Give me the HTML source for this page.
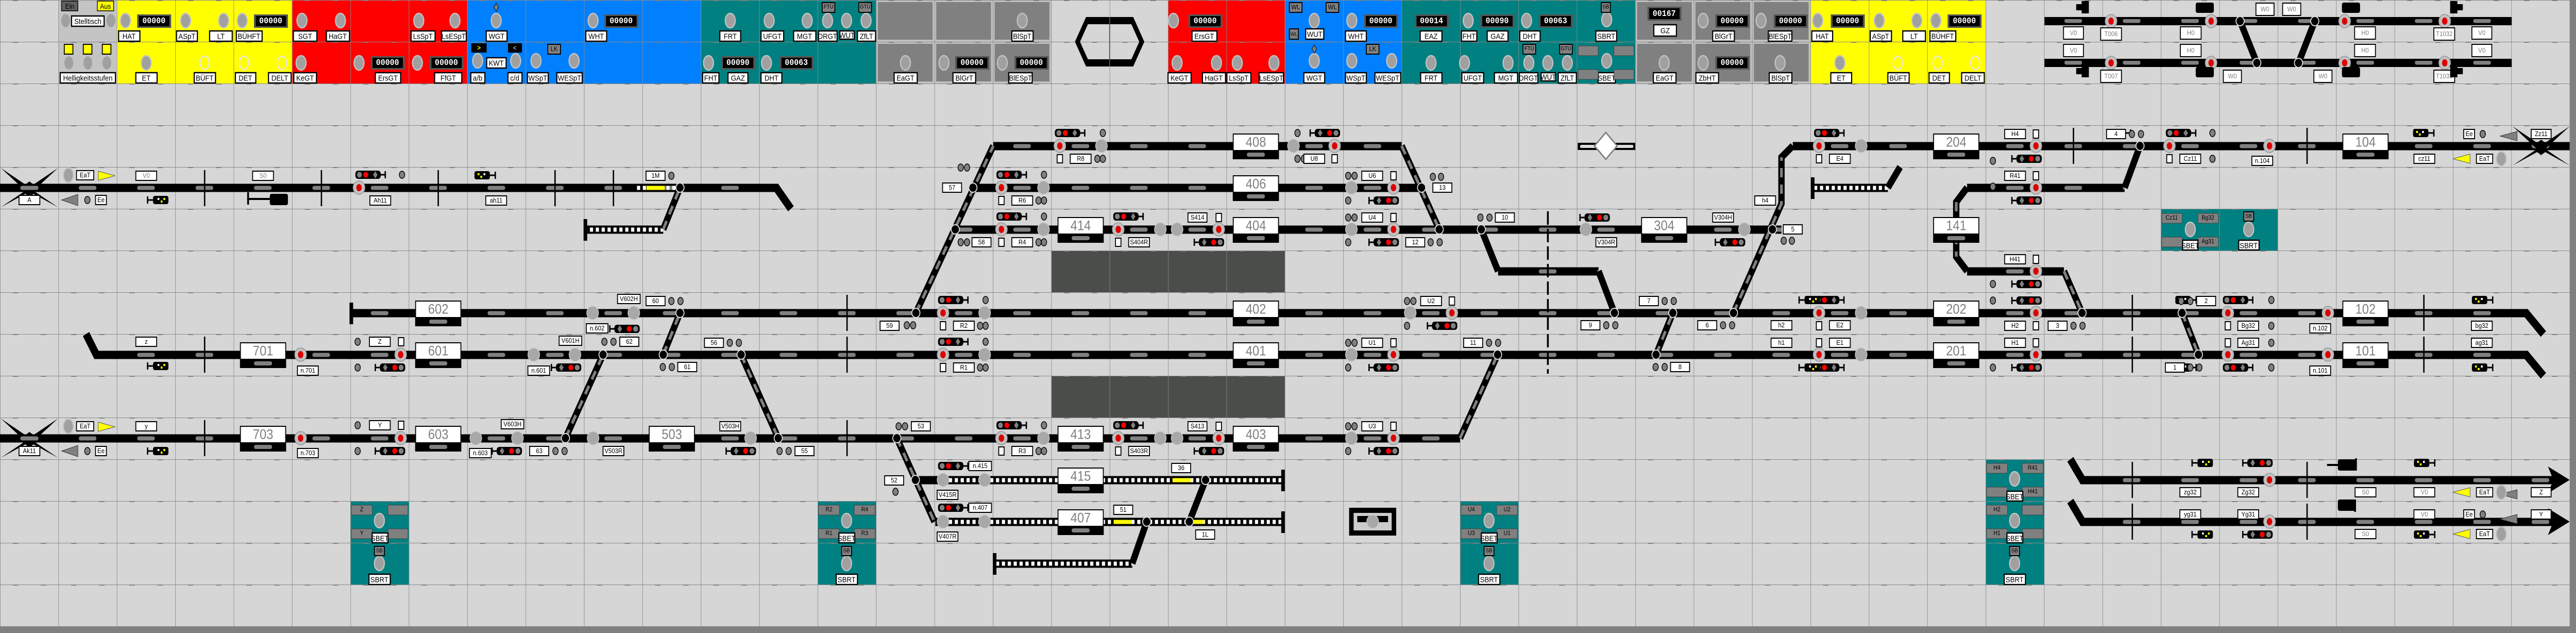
<!DOCTYPE html>
<html><head><meta charset="utf-8"><style>
html,body{margin:0;padding:0;background:#d6d6d6;width:100%;height:100%;overflow:hidden}
svg{display:block;width:100vw;height:100vh;position:absolute;left:0;top:0}
text{font-family:"Liberation Sans",sans-serif;text-anchor:middle;dominant-baseline:central}
.L rect{fill:#fff;stroke:#000;stroke-width:2}
.L text{font-size:13px;fill:#000}
.G text{fill:#808080}
.P rect{fill:#fff;stroke:#000;stroke-width:2.5}
.P text{font-size:15px;fill:#000}
.C text{font-family:"Liberation Mono",monospace;font-size:17px;fill:#fff;font-weight:bold}
.B text{font-size:27px;fill:#808080}
.tr{fill:none;stroke:#000;stroke-width:16}
.dg{fill:none;stroke:#000;stroke-width:14}
.dc{fill:none;stroke:#808080;stroke-width:6;stroke-dasharray:18 14}
.tk{stroke:#000;stroke-width:3}
</style></head><body>
<svg viewBox="0 0 5690 1228" preserveAspectRatio="none" xmlns="http://www.w3.org/2000/svg">
<defs>
<pattern id="gr" width="129" height="81" patternUnits="userSpaceOnUse">
<path d="M0.5 0V81M0 0.5H129" stroke="#8a8a8a" stroke-width="1" fill="none"/>
<rect x="28" y="-1" width="12" height="3" fill="#808080"/><rect x="90" y="-1" width="12" height="3" fill="#808080"/>
</pattern>
<pattern id="cap" width="129" height="81" patternUnits="userSpaceOnUse">
<rect x="45" y="36.5" width="39" height="8" rx="4" fill="#808080"/>
</pattern>
<pattern id="lad" width="13" height="81" patternUnits="userSpaceOnUse">
<rect x="3" y="36.5" width="7" height="8" fill="#fff"/>
</pattern>
<g id="k"><ellipse rx="11" ry="14" fill="#a0a0a0" stroke="#c4c4c4" stroke-width="2.5"/></g>
<g id="rg"><ellipse rx="10" ry="13" fill="none" stroke="#e8e8e8" stroke-width="2.5"/></g>
<g id="rk"><circle r="13" fill="#c0c0c0" stroke="#989898" stroke-width="1.5"/><ellipse rx="6" ry="7" fill="#d00"/></g>
<g id="gk"><circle r="13" fill="#a8a8a8" stroke="#c8c8c8" stroke-width="1.5"/></g>
<g id="dt"><ellipse rx="6" ry="7" fill="#808080" stroke="#000" stroke-width="1.5"/></g>
<g id="sq"><rect x="-6" y="-8" width="12" height="16" fill="#fff" stroke="#000" stroke-width="2"/></g>
<g id="sg"><rect x="0" y="-8" width="56" height="16" rx="6" fill="#000"/><circle cx="9" cy="0" r="5.5" fill="#808080"/><circle cx="23" cy="0" r="5.5" fill="#f00"/><path d="M44 -7L49 0L44 7L39 0Z" fill="#808080"/><path d="M56 0H66M66 -7V7" stroke="#000" stroke-width="3"/></g>
<g id="ys"><rect x="0" y="-8" width="34" height="16" rx="4" fill="#000"/><rect x="7" y="-4" width="4" height="4" fill="#ff0"/><rect x="13" y="1" width="4" height="4" fill="#ff0"/><rect x="20" y="-4" width="4" height="4" fill="#fff"/><path d="M34 0H46M46 -7V7" stroke="#000" stroke-width="3"/></g>
<g id="sw"><circle r="9" fill="#000" stroke="#ddd" stroke-width="2"/></g>
</defs>

<rect width="5690" height="1228" fill="#d6d6d6"/>

<!-- TOP PANELS -->
<rect x="129" y="0" width="129" height="162" fill="#c4c4c4"/>
<rect x="258" y="0" width="387" height="162" fill="#ffff00"/>
<rect x="645" y="0" width="387" height="162" fill="#ff0000"/>
<rect x="1032" y="0" width="516" height="162" fill="#0080ff"/>
<rect x="1548" y="0" width="387" height="162" fill="#008080"/>
<g fill="#808080" stroke="#c0c0c0" stroke-width="4">
<rect x="1937" y="2" width="125" height="77"/><rect x="2066" y="2" width="125" height="77"/><rect x="2195" y="2" width="125" height="77"/>
<rect x="1937" y="83" width="125" height="77"/><rect x="2066" y="83" width="125" height="77"/><rect x="2195" y="83" width="125" height="77"/>
<rect x="3614" y="2" width="125" height="77"/><rect x="3743" y="2" width="125" height="77"/><rect x="3872" y="2" width="125" height="77"/>
<rect x="3614" y="83" width="125" height="77"/><rect x="3743" y="83" width="125" height="77"/><rect x="3872" y="83" width="125" height="77"/>
</g>
<rect x="2580" y="0" width="258" height="162" fill="#ff0000"/>
<rect x="2838" y="0" width="258" height="162" fill="#0080ff"/>
<rect x="3096" y="0" width="516" height="162" fill="#008080"/>
<rect x="3999" y="0" width="387" height="162" fill="#ffff00"/>

<!-- dark blocks -->
<rect x="2322" y="486" width="516" height="81" fill="#4b4d4a"/>
<rect x="2322" y="729" width="516" height="81" fill="#4b4d4a"/>

<!-- teal SB boxes -->
<rect x="774" y="972" width="129" height="162" fill="#008080"/>
<rect x="1806" y="972" width="129" height="162" fill="#008080"/>
<rect x="3225" y="972" width="129" height="162" fill="#008080"/>
<rect x="4386" y="891" width="129" height="243" fill="#008080"/>
<rect x="4773" y="405" width="258" height="81" fill="#008080"/>

<!-- grid overlay -->
<rect width="5676" height="1215" fill="url(#gr)"/>
<rect x="0" y="1215" width="5690" height="13" fill="#808080"/>
<rect x="5676" y="0" width="14" height="1228" fill="#808080"/>

<!-- top panel content -->
<g>
<rect x="136" y="2" width="36" height="19" fill="#606060" stroke="#000" stroke-width="1.5"/><text x="154" y="12" font-size="14">Ein</text>
<rect x="215" y="2" width="36" height="19" fill="#ff0" stroke="#000" stroke-width="1.5"/><text x="233" y="12" font-size="14">Aus</text>
<rect x="142" y="86" width="19" height="19" fill="#ff0" stroke="#000" stroke-width="2"/><rect x="184" y="86" width="19" height="19" fill="#ff0" stroke="#000" stroke-width="2"/><rect x="226" y="86" width="19" height="19" fill="#ff0" stroke="#000" stroke-width="2"/>
</g>
<g>
<use href="#k" x="145" y="40"/><use href="#k" x="245" y="40"/><use href="#k" x="152" y="122"/><use href="#k" x="194" y="122"/><use href="#k" x="236" y="122"/>
<use href="#k" x="277" y="40"/><use href="#k" x="323" y="122"/>
<use href="#k" x="410" y="40"/><use href="#k" x="494" y="40"/><use href="#rg" x="452" y="122"/>
<use href="#k" x="535" y="40"/><use href="#rg" x="539" y="122"/><use href="#rg" x="623" y="122"/>
<use href="#k" x="667" y="40"/><use href="#k" x="752" y="40"/><use href="#k" x="665" y="122"/>
<use href="#k" x="793" y="122"/>
<use href="#k" x="925" y="40"/><use href="#k" x="1005" y="40"/><use href="#k" x="922" y="122"/>
<use href="#k" x="1096" y="40"/><use href="#k" x="1055" y="118"/><use href="#k" x="1139" y="118"/>
<use href="#k" x="1184" y="118"/><use href="#k" x="1268" y="118"/>
<use href="#k" x="1310" y="40"/>
<use href="#k" x="1613" y="40"/><use href="#k" x="1565" y="122"/>
<use href="#k" x="1699" y="40"/><use href="#k" x="1783" y="40"/><use href="#k" x="1693" y="122"/>
<use href="#k" x="1828" y="40"/><use href="#k" x="1870" y="40"/><use href="#k" x="1913" y="40"/>
<use href="#k" x="2000" y="122"/><use href="#k" x="2085" y="122"/><use href="#k" x="2258" y="40"/><use href="#k" x="2214" y="122"/>
<use href="#k" x="2592" y="40"/><use href="#k" x="2600" y="122"/><use href="#k" x="2687" y="122"/><use href="#k" x="2733" y="122"/><use href="#k" x="2814" y="122"/>
<use href="#k" x="2903" y="40"/><use href="#k" x="2903" y="118"/><use href="#k" x="2986" y="40"/><use href="#k" x="2986" y="118"/><use href="#k" x="3074" y="118"/>
<use href="#k" x="3161" y="122"/><use href="#k" x="3243" y="40"/><use href="#k" x="3235" y="122"/><use href="#k" x="3331" y="122"/>
<use href="#k" x="3372" y="40"/><use href="#k" x="3377" y="122"/><use href="#k" x="3419" y="122"/><use href="#k" x="3462" y="122"/>
<use href="#k" x="3549" y="38"/><use href="#k" x="3549" y="118"/>
<use href="#k" x="3676" y="122"/><use href="#k" x="3762" y="40"/><use href="#k" x="3762" y="122"/><use href="#k" x="3890" y="40"/><use href="#k" x="3932" y="122"/>
<use href="#k" x="4015" y="40"/><use href="#k" x="4064" y="122"/><use href="#k" x="4151" y="40"/><use href="#k" x="4234" y="40"/><use href="#rg" x="4192" y="122"/>
<use href="#k" x="4276" y="40"/><use href="#rg" x="4280" y="122"/><use href="#rg" x="4363" y="122"/>
</g>
<!-- counters -->
<g class="C">
<rect x="303" y="28" width="75" height="26" fill="#555"/><rect x="307" y="31" width="67" height="20" fill="#000"/><text x="340" y="41">00000</text>
<rect x="561" y="28" width="75" height="26" fill="#555"/><rect x="565" y="31" width="67" height="20" fill="#000"/><text x="598" y="41">00000</text>
<rect x="819" y="109" width="75" height="26" fill="#555"/><rect x="823" y="112" width="67" height="20" fill="#000"/><text x="856" y="122">00000</text>
<rect x="949" y="109" width="75" height="26" fill="#555"/><rect x="953" y="112" width="67" height="20" fill="#000"/><text x="986" y="122">00000</text>
<rect x="1335" y="28" width="75" height="26" fill="#555"/><rect x="1339" y="31" width="67" height="20" fill="#000"/><text x="1372" y="41">00000</text>
<rect x="1593" y="109" width="75" height="26" fill="#555"/><rect x="1597" y="112" width="67" height="20" fill="#000"/><text x="1630" y="122">00090</text>
<rect x="1722" y="109" width="75" height="26" fill="#555"/><rect x="1726" y="112" width="67" height="20" fill="#000"/><text x="1759" y="122">00063</text>
<rect x="2110" y="109" width="75" height="26" fill="#555"/><rect x="2114" y="112" width="67" height="20" fill="#000"/><text x="2147" y="122">00000</text>
<rect x="2241" y="109" width="75" height="26" fill="#555"/><rect x="2245" y="112" width="67" height="20" fill="#000"/><text x="2278" y="122">00000</text>
<rect x="2625" y="28" width="75" height="26" fill="#555"/><rect x="2629" y="31" width="67" height="20" fill="#000"/><text x="2662" y="41">00000</text>
<rect x="3013" y="28" width="75" height="26" fill="#555"/><rect x="3017" y="31" width="67" height="20" fill="#000"/><text x="3050" y="41">00000</text>
<rect x="3125" y="28" width="75" height="26" fill="#555"/><rect x="3129" y="31" width="67" height="20" fill="#000"/><text x="3162" y="41">00014</text>
<rect x="3270" y="28" width="75" height="26" fill="#555"/><rect x="3274" y="31" width="67" height="20" fill="#000"/><text x="3307" y="41">00090</text>
<rect x="3399" y="28" width="75" height="26" fill="#555"/><rect x="3403" y="31" width="67" height="20" fill="#000"/><text x="3436" y="41">00063</text>
<rect x="3639" y="13" width="75" height="27" fill="#555"/><rect x="3643" y="16" width="67" height="21" fill="#000"/><text x="3676" y="27">00167</text>
<rect x="3789" y="28" width="75" height="26" fill="#555"/><rect x="3793" y="31" width="67" height="20" fill="#000"/><text x="3826" y="41">00000</text>
<rect x="3789" y="109" width="75" height="26" fill="#555"/><rect x="3793" y="112" width="67" height="20" fill="#000"/><text x="3826" y="122">00000</text>
<rect x="3918" y="28" width="75" height="26" fill="#555"/><rect x="3922" y="31" width="67" height="20" fill="#000"/><text x="3955" y="41">00000</text>
<rect x="4044" y="28" width="75" height="26" fill="#555"/><rect x="4048" y="31" width="67" height="20" fill="#000"/><text x="4081" y="41">00000</text>
<rect x="4302" y="28" width="75" height="26" fill="#555"/><rect x="4306" y="31" width="67" height="20" fill="#000"/><text x="4339" y="41">00000</text>
</g>
<!-- top labels -->
<g class="P">
<rect x="158" y="31" width="72" height="20"/><text x="194" y="41">Stelltisch</text>
<rect x="133" y="141" width="122" height="20"/><text x="194" y="151" font-size="13">Helligkeitsstufen</text>
<rect x="262" y="60" width="47" height="20"/><text x="285" y="70">HAT</text>
<rect x="300" y="141" width="47" height="20"/><text x="323" y="151">ET</text>
<rect x="390" y="60" width="46" height="20"/><text x="413" y="70">ASpT</text>
<rect x="463" y="60" width="50" height="20"/><text x="488" y="70">LT</text>
<rect x="429" y="141" width="47" height="20"/><text x="452" y="151">BÜFT</text>
<rect x="522" y="60" width="57" height="20"/><text x="550" y="70">BÜHFT</text>
<rect x="520" y="141" width="45" height="20"/><text x="542" y="151">DET</text>
<rect x="593" y="141" width="50" height="20"/><text x="618" y="151">DELT</text>
<rect x="648" y="60" width="52" height="20"/><text x="674" y="70">SGT</text>
<rect x="721" y="60" width="51" height="20"/><text x="746" y="70">HaGT</text>
<rect x="649" y="141" width="50" height="20"/><text x="674" y="151">KeGT</text>
<rect x="829" y="141" width="56" height="20"/><text x="857" y="151">ErsGT</text>
<rect x="908" y="60" width="53" height="20"/><text x="934" y="70">LsSpT</text>
<rect x="975" y="60" width="55" height="20"/><text x="1002" y="70">LsESpT</text>
<rect x="960" y="141" width="60" height="20"/><text x="990" y="151">FfGT</text>
<rect x="1074" y="60" width="46" height="20"/><text x="1097" y="70">WGT</text>
<rect x="1075" y="112" width="43" height="20"/><text x="1096" y="122">KWT</text>
<rect x="1040" y="141" width="31" height="20"/><text x="1055" y="151">a/b</text>
<rect x="1122" y="141" width="31" height="20"/><text x="1137" y="151">c/d</text>
<rect x="1165" y="141" width="46" height="20"/><text x="1188" y="151">WSpT</text>
<rect x="1230" y="141" width="56" height="20"/><text x="1258" y="151">WESpT</text>
<rect x="1294" y="60" width="46" height="20"/><text x="1317" y="70">WHT</text>
<rect x="1590" y="60" width="46" height="20"/><text x="1613" y="70">FRT</text>
<rect x="1552" y="141" width="36" height="20"/><text x="1570" y="151">FHT</text>
<rect x="1608" y="141" width="44" height="20"/><text x="1630" y="151">GAZ</text>
<rect x="1681" y="60" width="50" height="20"/><text x="1706" y="70">UFGT</text>
<rect x="1753" y="60" width="49" height="20"/><text x="1777" y="70">MGT</text>
<rect x="1681" y="141" width="46" height="20"/><text x="1704" y="151">DHT</text>
<rect x="1808" y="60" width="41" height="20"/><text x="1828" y="70" font-size="12">DRGT</text>
<rect x="1855" y="60" width="32" height="16"/><text x="1871" y="68" font-size="11">WUT</text>
<rect x="1894" y="60" width="40" height="20"/><text x="1914" y="70">ZfLT</text>
<rect x="1975" y="141" width="51" height="20"/><text x="2000" y="151">EaGT</text>
<rect x="2105" y="141" width="50" height="20"/><text x="2130" y="151">BlGrT</text>
<rect x="2235" y="60" width="47" height="20"/><text x="2258" y="70">BlSpT</text>
<rect x="2228" y="141" width="52" height="20"/><text x="2254" y="151">BlESpT</text>
<rect x="2633" y="60" width="55" height="20"/><text x="2660" y="70">ErsGT</text>
<rect x="2580" y="141" width="51" height="20"/><text x="2605" y="151">KeGT</text>
<rect x="2656" y="141" width="51" height="20"/><text x="2681" y="151">HaGT</text>
<rect x="2710" y="141" width="53" height="20"/><text x="2736" y="151">LsSpT</text>
<rect x="2781" y="141" width="54" height="20"/><text x="2808" y="151">LsESpT</text>
<rect x="2884" y="56" width="40" height="20"/><text x="2904" y="66">WUT</text>
<rect x="2880" y="141" width="46" height="20"/><text x="2903" y="151">WGT</text>
<rect x="2972" y="60" width="46" height="20"/><text x="2995" y="70">WHT</text>
<rect x="2972" y="141" width="46" height="20"/><text x="2995" y="151">WSpT</text>
<rect x="3037" y="141" width="57" height="20"/><text x="3065" y="151">WESpT</text>
<rect x="3137" y="60" width="48" height="20"/><text x="3161" y="70">EAZ</text>
<rect x="3138" y="141" width="47" height="20"/><text x="3161" y="151">FRT</text>
<rect x="3228" y="60" width="34" height="20"/><text x="3245" y="70">FHT</text>
<rect x="3285" y="60" width="46" height="20"/><text x="3308" y="70">GAZ</text>
<rect x="3229" y="141" width="48" height="20"/><text x="3253" y="151">UFGT</text>
<rect x="3301" y="141" width="51" height="20"/><text x="3326" y="151">MGT</text>
<rect x="3357" y="60" width="45" height="20"/><text x="3379" y="70">DHT</text>
<rect x="3356" y="141" width="41" height="20"/><text x="3376" y="151" font-size="12">DRGT</text>
<rect x="3404" y="141" width="32" height="16"/><text x="3420" y="149" font-size="11">WUT</text>
<rect x="3442" y="141" width="40" height="20"/><text x="3462" y="151">ZfLT</text>
<rect x="3525" y="60" width="46" height="20"/><text x="3548" y="70">SBRT</text>
<rect x="3530" y="141" width="38" height="20"/><text x="3549" y="151" font-size="13">SBET</text>
<rect x="3653" y="48" width="50" height="22"/><text x="3678" y="59">GZ</text>
<rect x="3652" y="141" width="50" height="20"/><text x="3677" y="151">EaGT</text>
<rect x="3783" y="60" width="48" height="20"/><text x="3807" y="70">BlGrT</text>
<rect x="3746" y="141" width="50" height="20"/><text x="3771" y="151">ZbHT</text>
<rect x="3906" y="60" width="52" height="20"/><text x="3932" y="70">BlESpT</text>
<rect x="3908" y="141" width="50" height="20"/><text x="3933" y="151">BlSpT</text>
<rect x="4002" y="60" width="46" height="20"/><text x="4025" y="70">HAT</text>
<rect x="4044" y="141" width="46" height="20"/><text x="4067" y="151">ET</text>
<rect x="4131" y="60" width="47" height="20"/><text x="4154" y="70">ASpT</text>
<rect x="4203" y="60" width="50" height="20"/><text x="4228" y="70">LT</text>
<rect x="4170" y="141" width="47" height="20"/><text x="4193" y="151">BÜFT</text>
<rect x="4263" y="60" width="57" height="20"/><text x="4291" y="70">BÜHFT</text>
<rect x="4261" y="141" width="45" height="20"/><text x="4283" y="151">DET</text>
<rect x="4333" y="141" width="50" height="20"/><text x="4358" y="151">DELT</text>
</g>
<!-- small gray boxes in panels -->
<g font-size="13">
<rect x="1041" y="84" width="34" height="18" fill="#000"/><text x="1058" y="93" fill="#ff0" font-weight="bold">&gt;</text>
<rect x="1122" y="84" width="31" height="18" fill="#000"/><text x="1137" y="93" fill="#aaa" font-weight="bold">&lt;</text>
<path d="M1096 6L1101 14L1096 22L1091 14Z" fill="#808080" stroke="#000"/>
<rect x="1210" y="86" width="28" height="19" fill="#808080" stroke="#000" stroke-width="2"/><text x="1224" y="95">LK</text>
<rect x="1816" y="5" width="28" height="19" fill="#808080" stroke="#000" stroke-width="2"/><text x="1830" y="14" font-size="11">FTÜ</text>
<rect x="1897" y="5" width="28" height="19" fill="#808080" stroke="#000" stroke-width="2"/><text x="1911" y="14" font-size="11">GTÜ</text>
<rect x="2848" y="5" width="28" height="19" fill="#808080" stroke="#000" stroke-width="2"/><text x="2862" y="14">WL</text>
<rect x="2929" y="5" width="28" height="19" fill="#808080" stroke="#000" stroke-width="2"/><text x="2943" y="14">WL</text>
<rect x="2848" y="56" width="20" height="20" fill="#808080" stroke="#000" stroke-width="2"/><text x="2858" y="66" font-size="10">WL</text>
<path d="M2903 87L2908 95L2903 103L2898 95Z" fill="#808080" stroke="#000"/>
<rect x="3018" y="86" width="28" height="19" fill="#808080" stroke="#000" stroke-width="2"/><text x="3032" y="95">LK</text>
<rect x="3364" y="86" width="28" height="19" fill="#808080" stroke="#000" stroke-width="2"/><text x="3378" y="95" font-size="11">FTÜ</text>
<rect x="3445" y="86" width="28" height="19" fill="#808080" stroke="#000" stroke-width="2"/><text x="3459" y="95" font-size="11">GTÜ</text>
<rect x="3537" y="5" width="20" height="19" fill="#808080" stroke="#000" stroke-width="2"/><text x="3547" y="14" font-size="11">SB</text>
<rect x="3486" y="89" width="44" height="19" fill="#808080" stroke="#444"/><rect x="3565" y="89" width="44" height="19" fill="#808080" stroke="#444"/>
<rect x="3486" y="135" width="44" height="19" fill="#808080" stroke="#444"/><rect x="3565" y="135" width="44" height="19" fill="#808080" stroke="#444"/>
</g>
<!-- hexagon -->
<polygon points="2402,38 2500,38 2522,81 2500,124 2402,124 2380,81" fill="none" stroke="#000" stroke-width="10"/>
<rect x="2400" y="33" width="102" height="14" fill="#000"/><rect x="2400" y="115" width="102" height="14" fill="#000"/>
<path d="M2404 52L2392 78M2498 52L2510 78M2404 110L2392 84M2498 110L2510 84" stroke="#d6d6d6" stroke-width="4"/>
<line x1="2451" y1="33" x2="2451" y2="129" stroke="#555" stroke-width="2"/>

<!-- TOP RIGHT DIAGRAM -->
<path class="tr" d="M4516 41H5548M4516 122H5548"/>
<rect x="4516" y="37" width="1032" height="8" fill="url(#cap)"/><rect x="4516" y="118" width="1032" height="8" fill="url(#cap)"/>
<path class="dg" d="M4948 41L4985 122M5113 41L5077 122"/>
<use href="#rk" x="4663" y="41"/><use href="#rk" x="4884" y="41"/><use href="#rk" x="5179" y="41"/><use href="#rk" x="5400" y="41"/>
<use href="#rk" x="4663" y="122"/><use href="#rk" x="4884" y="122"/><use href="#rk" x="5179" y="122"/><use href="#rk" x="5400" y="122"/>
<use href="#sw" x="4948" y="41"/><use href="#sw" x="5113" y="41"/><use href="#sw" x="4985" y="122"/><use href="#sw" x="5077" y="122"/>
<g class="L G">
<rect x="4558" y="52" width="44" height="24"/><text x="4580" y="64">V0</text>
<rect x="4640" y="54" width="46" height="24"/><text x="4663" y="66" font-size="11">T006</text>
<rect x="4816" y="52" width="46" height="24"/><text x="4839" y="64">H0</text>
<rect x="5201" y="52" width="46" height="24"/><text x="5224" y="64">H0</text>
<rect x="5376" y="54" width="46" height="24"/><text x="5399" y="66" font-size="11">T1032</text>
<rect x="5460" y="52" width="44" height="24"/><text x="5482" y="64">V0</text>
<rect x="4983" y="6" width="40" height="24"/><text x="5003" y="18">W0</text>
<rect x="5042" y="6" width="40" height="24"/><text x="5062" y="18">W0</text>
<rect x="4558" y="86" width="44" height="24"/><text x="4580" y="98">V0</text>
<rect x="4816" y="86" width="46" height="24"/><text x="4839" y="98">H0</text>
<rect x="5201" y="86" width="46" height="24"/><text x="5224" y="98">H0</text>
<rect x="5460" y="86" width="44" height="24"/><text x="5482" y="98">V0</text>
<rect x="4640" y="136" width="46" height="24"/><text x="4663" y="148" font-size="11">T007</text>
<rect x="4911" y="136" width="40" height="24"/><text x="4931" y="148">W0</text>
<rect x="5111" y="136" width="40" height="24"/><text x="5131" y="148">W0</text>
<rect x="5376" y="136" width="46" height="24"/><text x="5399" y="148" font-size="11">T1033</text>
</g>
<g fill="#000">
<path d="M4586 8h12v-6h16v24h-16v-6h-12z"/><path d="M4586 132h12v-6h16v24h-16v-6h-12z"/>
<path d="M5440 8h-12v-6h-16v24h16v-6h12z"/><path d="M5440 132h-12v-6h-16v24h16v-6h12z"/>
<rect x="4850" y="5" width="40" height="20" rx="4"/><rect x="4850" y="130" width="40" height="20" rx="4"/>
<rect x="5173" y="5" width="40" height="20" rx="4"/><rect x="5173" y="130" width="40" height="20" rx="4"/>
</g>

<!-- MAIN TRACKS -->
<g class="tr">
<path d="M0 364.5H1715L1747 405"/>
<path d="M2149 364.5H3140"/>
<path d="M2110 445.5H3935"/>
<path d="M2194 283.5H3096"/>
<path d="M3960 283.5H5676"/>
<path d="M777 607.5H5580L5618 648"/>
<path d="M190 648L213 688.5H5580L5618 729"/>
<path d="M0 850.5H3225"/>
<path d="M4345 364.5H4693"/>
<path d="M4345 526.5H4559"/>
<path d="M3309 526.5H3531"/>
<path d="M4573 891L4600 931.5H5640"/>
<path d="M4573 972L4600 1012.5H5640"/>
<path d="M1292 445.5H1465"/>
<path d="M2020 931.5H2834"/>
<path d="M2066 1012.5H2834"/>
<path d="M2197 1093.5H2501"/>
<path d="M4003 364.5H4170"/>
</g>
<g>
<rect x="0" y="360.5" width="1715" height="8" fill="url(#cap)"/>
<rect x="2149" y="360.5" width="991" height="8" fill="url(#cap)"/>
<rect x="2110" y="441.5" width="1825" height="8" fill="url(#cap)"/>
<rect x="2194" y="279.5" width="902" height="8" fill="url(#cap)"/>
<rect x="3960" y="279.5" width="1716" height="8" fill="url(#cap)"/>
<rect x="777" y="603.5" width="4803" height="8" fill="url(#cap)"/>
<rect x="213" y="684.5" width="5367" height="8" fill="url(#cap)"/>
<rect x="0" y="846.5" width="3225" height="8" fill="url(#cap)"/>
<rect x="4345" y="360.5" width="348" height="8" fill="url(#cap)"/>
<rect x="4345" y="522.5" width="214" height="8" fill="url(#cap)"/>
<rect x="3309" y="522.5" width="222" height="8" fill="url(#cap)"/>
<rect x="4600" y="927.5" width="1040" height="8" fill="url(#cap)"/>
<rect x="4600" y="1008.5" width="1040" height="8" fill="url(#cap)"/>
<rect x="1292" y="441.5" width="173" height="8" fill="url(#lad)"/>
<rect x="2090" y="927.5" width="744" height="8" fill="url(#lad)"/>
<rect x="2090" y="1008.5" width="744" height="8" fill="url(#lad)"/>
<rect x="2197" y="1089.5" width="304" height="8" fill="url(#lad)"/>
<rect x="4003" y="360.5" width="167" height="8" fill="url(#lad)"/>
<rect x="1405" y="360.5" width="100" height="8" fill="url(#lad)"/>
<rect x="1428" y="360.5" width="40" height="8" fill="#ff0"/>
<rect x="2590" y="927.5" width="40" height="8" fill="#ff0"/>
<rect x="2460" y="1008.5" width="40" height="8" fill="#ff0"/>
<rect x="2620" y="1008.5" width="40" height="8" fill="#ff0"/>
</g>
<!-- end bars -->
<g fill="#000">
<rect x="772" y="587" width="8" height="42"/><rect x="1289" y="425" width="8" height="42"/>
<rect x="2830" y="911" width="8" height="42"/><rect x="2830" y="992" width="8" height="42"/>
<rect x="2193" y="1073" width="8" height="42"/><rect x="4000" y="344" width="8" height="42"/>
<polygon points="5628,905 5676,931 5628,957 5640,931"/><polygon points="5628,986 5676,1012 5628,1038 5640,1012"/>
</g>
<!-- diagonals -->
<g class="dg">
<path d="M1465 445L1502 364"/><path d="M1465 688L1502 607"/><path d="M1249 850L1332 688"/>
<path d="M1637 688L1719 850"/><path d="M2023 607L2194 283"/><path d="M1981 850L2064 1012"/>
<path d="M2501 1093L2533 1012"/><path d="M2627 1012L2663 931"/><path d="M3096 283L3179 445"/>
<path d="M3272 445L3309 526"/><path d="M3531 526L3566 607"/><path d="M3225 850L3308 688"/>
<path d="M3658 688L3695 607"/><path d="M3829 607L3935 395V305L3960 283"/>
<path d="M4170 364L4197 324"/><path d="M4693 364L4727 283"/>
<path d="M4345 364L4321 392V498L4345 526"/><path d="M4559 526L4599 607"/><path d="M4820 607L4856 688"/>
</g>
<g class="dc">
<path d="M1465 445L1502 364"/><path d="M1465 688L1502 607"/><path d="M1249 850L1332 688"/>
<path d="M1637 688L1719 850"/><path d="M2023 607L2194 283"/><path d="M1981 850L2064 1012"/>
<path d="M3096 283L3179 445"/><path d="M3225 850L3308 688"/><path d="M3829 607L3935 395V305"/>
<path d="M4321 392V498"/><path d="M4559 526L4599 607"/><path d="M4820 607L4856 688"/><path d="M3658 688L3695 607"/>
</g>
<!-- switches -->
<g>
<use href="#sw" x="1502" y="364"/><use href="#sw" x="1502" y="607"/><use href="#sw" x="1465" y="688"/><use href="#sw" x="1332" y="688"/><use href="#sw" x="1249" y="850"/>
<use href="#sw" x="1637" y="688"/><use href="#sw" x="1719" y="850"/><use href="#sw" x="2023" y="607"/><use href="#sw" x="2110" y="445"/><use href="#sw" x="2149" y="364"/>
<use href="#sw" x="1981" y="850"/><use href="#sw" x="2022" y="931"/><use href="#sw" x="2533" y="1012"/><use href="#sw" x="2627" y="1012"/><use href="#sw" x="2663" y="931"/>
<use href="#sw" x="3140" y="364"/><use href="#sw" x="3179" y="445"/><use href="#sw" x="3272" y="445"/><use href="#sw" x="3566" y="607"/><use href="#sw" x="3308" y="688"/>
<use href="#sw" x="3658" y="688"/><use href="#sw" x="3695" y="607"/><use href="#sw" x="3829" y="607"/><use href="#sw" x="3915" y="445"/>
<use href="#sw" x="4727" y="283"/><use href="#sw" x="4599" y="607"/><use href="#sw" x="4820" y="607"/><use href="#sw" x="4856" y="688"/>
</g>
<!-- ticks -->
<g class="tk">
<path d="M452 330V400M710 330V400M968 330V400M1226 330V400M1355 330V400"/>
<path d="M452 653V723M452 815V885M1871 572V642M1871 653V723M1871 815V885"/>
<path d="M4580 248V318M5096 248V318M4710 572V642M5354 572V642M4710 653V723M5354 653V723M4710 896V966M5096 896V966M4710 977V1047M5096 977V1047"/>
</g>
<path d="M3419 410V725" stroke="#000" stroke-width="4" stroke-dasharray="26 8"/>
<!-- diamond -->
<rect x="3485" y="277" width="127" height="14" fill="#000"/><rect x="3490" y="281" width="40" height="6" rx="3" fill="#ddd"/><rect x="3568" y="281" width="40" height="6" rx="3" fill="#ddd"/>
<path d="M3547 257L3572 283L3547 309L3522 283Z" fill="#fff" stroke="#808080" stroke-width="3"/>
<!-- X symbols -->
<g fill="#000">
<polygon points="2,326 56,358 65,352 74,358 128,326 74,370 128,402 74,376 65,382 56,376 2,402 56,370"/>
<polygon points="2,812 56,844 65,838 74,844 128,812 74,856 128,888 74,862 65,868 56,862 2,888 56,856"/>
<polygon points="5550,245 5604,277 5613,271 5622,277 5676,245 5622,289 5676,321 5622,295 5613,301 5604,295 5550,321 5604,289"/>
</g>
<rect x="45" y="360.5" width="40" height="8" rx="4" fill="#808080"/><rect x="45" y="846.5" width="40" height="8" rx="4" fill="#808080"/>

<!-- station boxes -->
<g class="B">
<g><rect x="917" y="583" width="102" height="50" fill="#000"/><rect x="919" y="585" width="98" height="30" fill="#fff"/><text x="968" y="600">602</text><rect x="948" y="620" width="40" height="8" rx="4" fill="#808080"/></g>
<g><rect x="917" y="664" width="102" height="50" fill="#000"/><rect x="919" y="666" width="98" height="30" fill="#fff"/><text x="968" y="681">601</text><rect x="948" y="701" width="40" height="8" rx="4" fill="#808080"/></g>
<g><rect x="530" y="664" width="102" height="50" fill="#000"/><rect x="532" y="666" width="98" height="30" fill="#fff"/><text x="581" y="681">701</text><rect x="561" y="701" width="40" height="8" rx="4" fill="#808080"/></g>
<g><rect x="530" y="826" width="102" height="50" fill="#000"/><rect x="532" y="828" width="98" height="30" fill="#fff"/><text x="581" y="843">703</text><rect x="561" y="863" width="40" height="8" rx="4" fill="#808080"/></g>
<g><rect x="917" y="826" width="102" height="50" fill="#000"/><rect x="919" y="828" width="98" height="30" fill="#fff"/><text x="968" y="843">603</text><rect x="948" y="863" width="40" height="8" rx="4" fill="#808080"/></g>
<g><rect x="1433" y="826" width="102" height="50" fill="#000"/><rect x="1435" y="828" width="98" height="30" fill="#fff"/><text x="1484" y="843">503</text><rect x="1464" y="863" width="40" height="8" rx="4" fill="#808080"/></g>
<g><rect x="2723" y="259" width="102" height="50" fill="#000"/><rect x="2725" y="261" width="98" height="30" fill="#fff"/><text x="2774" y="276">408</text><rect x="2754" y="296" width="40" height="8" rx="4" fill="#808080"/></g>
<g><rect x="2723" y="340" width="102" height="50" fill="#000"/><rect x="2725" y="342" width="98" height="30" fill="#fff"/><text x="2774" y="357">406</text><rect x="2754" y="377" width="40" height="8" rx="4" fill="#808080"/></g>
<g><rect x="2723" y="421" width="102" height="50" fill="#000"/><rect x="2725" y="423" width="98" height="30" fill="#fff"/><text x="2774" y="438">404</text><rect x="2754" y="458" width="40" height="8" rx="4" fill="#808080"/></g>
<g><rect x="2336" y="421" width="102" height="50" fill="#000"/><rect x="2338" y="423" width="98" height="30" fill="#fff"/><text x="2387" y="438">414</text><rect x="2367" y="458" width="40" height="8" rx="4" fill="#808080"/></g>
<g><rect x="2723" y="583" width="102" height="50" fill="#000"/><rect x="2725" y="585" width="98" height="30" fill="#fff"/><text x="2774" y="600">402</text><rect x="2754" y="620" width="40" height="8" rx="4" fill="#808080"/></g>
<g><rect x="2723" y="664" width="102" height="50" fill="#000"/><rect x="2725" y="666" width="98" height="30" fill="#fff"/><text x="2774" y="681">401</text><rect x="2754" y="701" width="40" height="8" rx="4" fill="#808080"/></g>
<g><rect x="2723" y="826" width="102" height="50" fill="#000"/><rect x="2725" y="828" width="98" height="30" fill="#fff"/><text x="2774" y="843">403</text><rect x="2754" y="863" width="40" height="8" rx="4" fill="#808080"/></g>
<g><rect x="2336" y="826" width="102" height="50" fill="#000"/><rect x="2338" y="828" width="98" height="30" fill="#fff"/><text x="2387" y="843">413</text><rect x="2367" y="863" width="40" height="8" rx="4" fill="#808080"/></g>
<g><rect x="2336" y="907" width="102" height="50" fill="#000"/><rect x="2338" y="909" width="98" height="30" fill="#fff"/><text x="2387" y="924">415</text><rect x="2367" y="944" width="40" height="8" rx="4" fill="#808080"/></g>
<g><rect x="2336" y="988" width="102" height="50" fill="#000"/><rect x="2338" y="990" width="98" height="30" fill="#fff"/><text x="2387" y="1005">407</text><rect x="2367" y="1025" width="40" height="8" rx="4" fill="#808080"/></g>
<g><rect x="3625" y="421" width="102" height="50" fill="#000"/><rect x="3627" y="423" width="98" height="30" fill="#fff"/><text x="3676" y="438">304</text><rect x="3656" y="458" width="40" height="8" rx="4" fill="#808080"/></g>
<g><rect x="4270" y="259" width="102" height="50" fill="#000"/><rect x="4272" y="261" width="98" height="30" fill="#fff"/><text x="4321" y="276">204</text><rect x="4301" y="296" width="40" height="8" rx="4" fill="#808080"/></g>
<g><rect x="4270" y="421" width="102" height="50" fill="#000"/><rect x="4272" y="423" width="98" height="30" fill="#fff"/><text x="4321" y="438">141</text><rect x="4301" y="458" width="40" height="8" rx="4" fill="#808080"/></g>
<g><rect x="4270" y="583" width="102" height="50" fill="#000"/><rect x="4272" y="585" width="98" height="30" fill="#fff"/><text x="4321" y="600">202</text><rect x="4301" y="620" width="40" height="8" rx="4" fill="#808080"/></g>
<g><rect x="4270" y="664" width="102" height="50" fill="#000"/><rect x="4272" y="666" width="98" height="30" fill="#fff"/><text x="4321" y="681">201</text><rect x="4301" y="701" width="40" height="8" rx="4" fill="#808080"/></g>
<g><rect x="5174" y="259" width="102" height="50" fill="#000"/><rect x="5176" y="261" width="98" height="30" fill="#fff"/><text x="5225" y="276">104</text><rect x="5205" y="296" width="40" height="8" rx="4" fill="#808080"/></g>
<g><rect x="5174" y="583" width="102" height="50" fill="#000"/><rect x="5176" y="585" width="98" height="30" fill="#fff"/><text x="5225" y="600">102</text><rect x="5205" y="620" width="40" height="8" rx="4" fill="#808080"/></g>
<g><rect x="5174" y="664" width="102" height="50" fill="#000"/><rect x="5176" y="666" width="98" height="30" fill="#fff"/><text x="5225" y="681">101</text><rect x="5205" y="701" width="40" height="8" rx="4" fill="#808080"/></g>
</g>

<!-- knobs on tracks -->
<g>
<use href="#rk" x="793" y="364"/><use href="#rk" x="664" y="688"/><use href="#rk" x="885" y="688"/><use href="#gk" x="1179" y="688"/><use href="#gk" x="1270" y="688"/>
<use href="#gk" x="1309" y="607"/><use href="#gk" x="1400" y="607"/>
<use href="#rk" x="664" y="850"/><use href="#rk" x="885" y="850"/><use href="#gk" x="1051" y="850"/><use href="#gk" x="1143" y="850"/><use href="#gk" x="1310" y="850"/><use href="#gk" x="1658" y="850"/>
<use href="#rk" x="2341" y="283"/><use href="#gk" x="2433" y="283"/>
<use href="#rk" x="2212" y="364"/><use href="#gk" x="2305" y="364"/>
<use href="#rk" x="2212" y="445"/><use href="#gk" x="2305" y="445"/>
<use href="#rk" x="2083" y="607"/><use href="#gk" x="2175" y="607"/>
<use href="#rk" x="2083" y="688"/><use href="#gk" x="2175" y="688"/>
<use href="#rk" x="2212" y="850"/><use href="#gk" x="2305" y="850"/>
<use href="#rk" x="2470" y="445"/><use href="#gk" x="2563" y="445"/><use href="#gk" x="2600" y="445"/><use href="#rk" x="2692" y="445"/>
<use href="#rk" x="2470" y="850"/><use href="#gk" x="2563" y="850"/><use href="#gk" x="2600" y="850"/><use href="#rk" x="2692" y="850"/>
<use href="#gk" x="2083" y="931"/><use href="#gk" x="2175" y="931"/><use href="#gk" x="2083" y="1012"/><use href="#gk" x="2175" y="1012"/>
<use href="#gk" x="2857" y="283"/><use href="#rk" x="2948" y="283"/>
<use href="#gk" x="2985" y="364"/><use href="#rk" x="3078" y="364"/>
<use href="#gk" x="2985" y="445"/><use href="#rk" x="3078" y="445"/>
<use href="#gk" x="3115" y="607"/><use href="#rk" x="3207" y="607"/>
<use href="#gk" x="2985" y="688"/><use href="#rk" x="3078" y="688"/>
<use href="#gk" x="2985" y="850"/><use href="#rk" x="3078" y="850"/>
<use href="#gk" x="3503" y="445"/><use href="#gk" x="3853" y="445"/>
<use href="#rk" x="4018" y="283"/><use href="#gk" x="4111" y="283"/>
<use href="#rk" x="4018" y="607"/><use href="#gk" x="4111" y="607"/>
<use href="#rk" x="4018" y="688"/><use href="#gk" x="4111" y="688"/>
<use href="#rk" x="4497" y="283"/><use href="#rk" x="4497" y="364"/><use href="#rk" x="4497" y="526"/><use href="#rk" x="4497" y="607"/><use href="#rk" x="4497" y="688"/>
<use href="#rk" x="4792" y="283"/><use href="#rk" x="5013" y="283"/>
<use href="#rk" x="4921" y="607"/><use href="#rk" x="5142" y="607"/><use href="#rk" x="4921" y="688"/><use href="#rk" x="5142" y="688"/>
<use href="#rk" x="5013" y="931"/><use href="#rk" x="5013" y="1012"/>
</g>
<!-- signal heads -->
<g>
<use href="#sg" x="2330" y="258"/><use href="#sg" x="2201" y="339"/><use href="#sg" x="2201" y="420"/><use href="#sg" x="2072" y="582"/><use href="#sg" x="2072" y="663"/><use href="#sg" x="2201" y="825"/>
<use href="#sg" x="2459" y="420"/><use href="#sg" x="2459" y="825"/>
<use href="#sg" transform="translate(2960,258) scale(-1,1)"/><use href="#sg" transform="translate(3090,389) scale(-1,1)"/><use href="#sg" transform="translate(3090,470) scale(-1,1)"/>
<use href="#sg" transform="translate(3219,632) scale(-1,1)"/><use href="#sg" transform="translate(3090,713) scale(-1,1)"/><use href="#sg" transform="translate(3090,875) scale(-1,1)"/>
<use href="#sg" transform="translate(2704,470) scale(-1,1)"/><use href="#sg" transform="translate(2704,875) scale(-1,1)"/>
<use href="#sg" x="785" y="339"/><use href="#sg" transform="translate(895,713) scale(-1,1)"/><use href="#sg" transform="translate(895,875) scale(-1,1)"/>
<use href="#sg" transform="translate(1413,638) scale(-1,1)"/><use href="#sg" transform="translate(1284,713) scale(-1,1)"/><use href="#sg" transform="translate(1153,875) scale(-1,1)"/><use href="#sg" transform="translate(1670,875) scale(-1,1)"/>
<use href="#sg" x="4007" y="258"/><use href="#sg" x="4007" y="582"/><use href="#sg" x="4007" y="713"/>
<use href="#sg" x="4784" y="258"/><use href="#sg" x="4910" y="582"/><use href="#sg" x="4910" y="713"/>
<use href="#sg" transform="translate(4510,308) scale(-1,1)"/><use href="#sg" transform="translate(4510,389) scale(-1,1)"/><use href="#sg" transform="translate(4510,551) scale(-1,1)"/><use href="#sg" transform="translate(4510,583) scale(-1,1)"/><use href="#sg" transform="translate(4510,713) scale(-1,1)"/>
<use href="#sg" transform="translate(5020,898) scale(-1,1)"/><use href="#sg" transform="translate(5020,1037) scale(-1,1)"/>
<use href="#sg" transform="translate(3556,422) scale(-1,1)"/><use href="#sg" transform="translate(3855,470) scale(-1,1)"/>
<use href="#sg" x="2072" y="904"/><use href="#sg" x="2072" y="985"/>
<use href="#ys" x="1048" y="340"/><use href="#ys" x="4660" y="258"/><use href="#ys" x="5330" y="258"/>
<use href="#ys" transform="translate(372,388) scale(-1,1)"/><use href="#ys" transform="translate(372,710) scale(-1,1)"/><use href="#ys" transform="translate(372,875) scale(-1,1)"/>
<use href="#ys" x="4805" y="582"/><use href="#ys" x="4805" y="713"/><use href="#ys" x="5460" y="582"/><use href="#ys" x="5460" y="713"/>
<use href="#ys" transform="translate(4020,582) scale(-1,1)"/><use href="#ys" transform="translate(4020,713) scale(-1,1)"/>
<use href="#ys" transform="translate(4888,898) scale(-1,1)"/><use href="#ys" transform="translate(4888,1037) scale(-1,1)"/><use href="#ys" x="5332" y="898"/><use href="#ys" x="5332" y="1037"/>
</g>
<!-- dots and squares -->
<g>
<use href="#sq" x="2212" y="389"/><use href="#sq" x="2212" y="470"/><use href="#sq" x="2341" y="308"/><use href="#sq" x="2083" y="632"/><use href="#sq" x="2083" y="713"/><use href="#sq" x="2212" y="875"/><use href="#sq" x="2470" y="470"/><use href="#sq" x="2470" y="875"/>
<use href="#sq" x="2948" y="308"/><use href="#sq" x="3078" y="341"/><use href="#sq" x="3078" y="422"/><use href="#sq" x="3207" y="584"/><use href="#sq" x="3078" y="665"/><use href="#sq" x="3078" y="827"/><use href="#sq" x="2692" y="422"/><use href="#sq" x="2692" y="827"/>
<use href="#sq" x="886" y="663"/><use href="#sq" x="886" y="825"/><use href="#sq" x="4018" y="308"/><use href="#sq" x="4018" y="632"/><use href="#sq" x="4018" y="665"/>
<use href="#sq" x="4497" y="260"/><use href="#sq" x="4497" y="341"/><use href="#sq" x="4497" y="503"/><use href="#sq" x="4497" y="632"/><use href="#sq" x="4497" y="665"/><use href="#sq" x="4792" y="308"/><use href="#sq" x="4921" y="632"/><use href="#sq" x="4921" y="665"/>
<use href="#dt" x="2294" y="389"/><use href="#dt" x="2306" y="389"/><use href="#dt" x="2294" y="470"/><use href="#dt" x="2306" y="470"/><use href="#dt" x="2424" y="308"/><use href="#dt" x="2436" y="308"/>
<use href="#dt" x="2306" y="339"/><use href="#dt" x="2306" y="420"/><use href="#dt" x="2436" y="258"/>
<use href="#dt" x="2165" y="632"/><use href="#dt" x="2177" y="632"/><use href="#dt" x="2165" y="713"/><use href="#dt" x="2177" y="713"/><use href="#dt" x="2177" y="582"/><use href="#dt" x="2177" y="663"/>
<use href="#dt" x="2294" y="875"/><use href="#dt" x="2306" y="875"/><use href="#dt" x="2306" y="825"/>
<use href="#dt" x="2122" y="325"/><use href="#dt" x="2136" y="325"/><use href="#dt" x="2122" y="470"/><use href="#dt" x="2136" y="470"/>
<use href="#dt" x="2003" y="631"/><use href="#dt" x="2017" y="631"/><use href="#dt" x="1985" y="827"/><use href="#dt" x="1999" y="827"/><use href="#dt" x="1978" y="954"/>
<use href="#dt" x="2866" y="258"/><use href="#dt" x="2866" y="308"/><use href="#dt" x="2880" y="308"/>
<use href="#dt" x="2978" y="341"/><use href="#dt" x="2992" y="341"/><use href="#dt" x="2978" y="389"/><use href="#dt" x="2978" y="422"/><use href="#dt" x="2992" y="422"/><use href="#dt" x="2978" y="470"/>
<use href="#dt" x="3108" y="584"/><use href="#dt" x="3122" y="584"/><use href="#dt" x="3108" y="632"/>
<use href="#dt" x="2978" y="665"/><use href="#dt" x="2992" y="665"/><use href="#dt" x="2978" y="713"/><use href="#dt" x="2978" y="827"/><use href="#dt" x="2992" y="827"/><use href="#dt" x="2978" y="875"/>
<use href="#dt" x="3165" y="343"/><use href="#dt" x="3183" y="343"/><use href="#dt" x="3160" y="470"/><use href="#dt" x="3180" y="470"/><use href="#dt" x="3270" y="422"/><use href="#dt" x="3290" y="422"/>
<use href="#dt" x="3677" y="584"/><use href="#dt" x="3697" y="584"/><use href="#dt" x="3548" y="631"/><use href="#dt" x="3568" y="631"/><use href="#dt" x="3806" y="631"/><use href="#dt" x="3826" y="631"/>
<use href="#dt" x="3289" y="665"/><use href="#dt" x="3309" y="665"/><use href="#dt" x="3657" y="712"/><use href="#dt" x="3677" y="712"/><use href="#dt" x="3940" y="467"/><use href="#dt" x="3958" y="467"/>
<use href="#dt" x="790" y="663"/><use href="#dt" x="790" y="713"/><use href="#dt" x="790" y="825"/><use href="#dt" x="790" y="875"/><use href="#dt" x="888" y="339"/>
<use href="#dt" x="1355" y="663"/><use href="#dt" x="1335" y="663"/><use href="#dt" x="1227" y="875"/><use href="#dt" x="1247" y="875"/><use href="#dt" x="1483" y="341"/>
<use href="#dt" x="1483" y="584"/><use href="#dt" x="1503" y="584"/><use href="#dt" x="1612" y="665"/><use href="#dt" x="1632" y="665"/><use href="#dt" x="1464" y="712"/><use href="#dt" x="1484" y="712"/>
<use href="#dt" x="1722" y="875"/><use href="#dt" x="1742" y="875"/>
<use href="#dt" x="4402" y="362"/><use href="#dt" x="4402" y="312"/><use href="#dt" x="4402" y="551"/><use href="#dt" x="4402" y="583"/><use href="#dt" x="4402" y="713"/>
<use href="#dt" x="4709" y="260"/><use href="#dt" x="4729" y="260"/><use href="#dt" x="4580" y="632"/><use href="#dt" x="4600" y="632"/><use href="#dt" x="4818" y="584"/><use href="#dt" x="4838" y="584"/><use href="#dt" x="4838" y="713"/><use href="#dt" x="4858" y="713"/>
<use href="#dt" x="4887" y="258"/><use href="#dt" x="4887" y="308"/><use href="#dt" x="5017" y="632"/><use href="#dt" x="5017" y="665"/><use href="#dt" x="5017" y="582"/><use href="#dt" x="5017" y="713"/>
<use href="#dt" x="5484" y="260"/><use href="#dt" x="5484" y="955"/><use href="#dt" x="5484" y="998"/><use href="#dt" x="193" y="388"/><use href="#dt" x="193" y="875"/>
</g>
<!-- misc shapes -->
<g fill="#000">
<rect x="546" y="373" width="4" height="24"/><rect x="546" y="384" width="50" height="4"/><rect x="596" y="376" width="40" height="22" rx="4"/>
<rect x="5202" y="889" width="4" height="24"/><rect x="5164" y="891" width="40" height="22" rx="4"/><rect x="5140" y="900" width="62" height="4"/>
<rect x="5164" y="969" width="40" height="22" rx="4"/><rect x="5200" y="969" width="4" height="24"/><rect x="5164" y="980" width="40" height="4"/>
<polygon points="136,388 172,377 172,399" fill="#808080" stroke="#333"/><polygon points="217,332 254,341 217,350" fill="#ff0" stroke="#555"/>
<polygon points="136,875 172,864 172,886" fill="#808080" stroke="#333"/><polygon points="217,819 254,828 217,837" fill="#ff0" stroke="#555"/>
<polygon points="5560,255 5522,264 5560,273" fill="#808080" stroke="#333"/><polygon points="5418,308 5456,299 5456,317" fill="#ff0" stroke="#555"/>
<polygon points="5560,950 5522,959 5560,968" fill="#808080" stroke="#333"/><polygon points="5418,955 5456,946 5456,964" fill="#ff0" stroke="#555"/>
<polygon points="5560,998 5522,1007 5560,1016" fill="#808080" stroke="#333"/><polygon points="5418,1036 5456,1027 5456,1045" fill="#ff0" stroke="#555"/>
<rect x="2980" y="985" width="104" height="54"/>
<rect x="2990" y="995" width="84" height="34" fill="#ccc"/><rect x="2998" y="1001" width="68" height="12" fill="#000"/>
</g>
<use href="#gk" x="3032" y="1012"/>
<use href="#k" x="151" y="340"/><use href="#k" x="151" y="827"/><use href="#k" x="5525" y="308"/><use href="#k" x="5525" y="955"/><use href="#k" x="5525" y="1036"/>
<!-- teal box contents -->
<g font-size="12">
<rect x="776" y="980" width="46" height="19" fill="#808080" stroke="#444"/><text x="799" y="989">Z</text><rect x="857" y="980" width="44" height="19" fill="#808080" stroke="#444"/>
<rect x="776" y="1026" width="46" height="19" fill="#808080" stroke="#444"/><text x="799" y="1035">Y</text><rect x="857" y="1026" width="44" height="19" fill="#808080" stroke="#444"/>
<rect x="1808" y="980" width="46" height="19" fill="#808080" stroke="#444"/><text x="1831" y="989">R2</text><rect x="1887" y="980" width="46" height="19" fill="#808080" stroke="#444"/><text x="1910" y="989">R4</text>
<rect x="1808" y="1026" width="46" height="19" fill="#808080" stroke="#444"/><text x="1831" y="1035">R1</text><rect x="1887" y="1026" width="46" height="19" fill="#808080" stroke="#444"/><text x="1910" y="1035">R3</text>
<rect x="3227" y="980" width="46" height="19" fill="#808080" stroke="#444"/><text x="3250" y="989">U4</text><rect x="3306" y="980" width="46" height="19" fill="#808080" stroke="#444"/><text x="3329" y="989">U2</text>
<rect x="3227" y="1026" width="46" height="19" fill="#808080" stroke="#444"/><text x="3250" y="1035">U3</text><rect x="3306" y="1026" width="46" height="19" fill="#808080" stroke="#444"/><text x="3329" y="1035">U1</text>
<rect x="4388" y="899" width="46" height="19" fill="#808080" stroke="#444"/><text x="4411" y="908">H4</text><rect x="4467" y="899" width="46" height="19" fill="#808080" stroke="#444"/><text x="4490" y="908">R41</text>
<rect x="4388" y="945" width="46" height="19" fill="#808080" stroke="#444"/><rect x="4467" y="945" width="46" height="19" fill="#808080" stroke="#444"/><text x="4490" y="954">H41</text>
<rect x="4388" y="980" width="46" height="19" fill="#808080" stroke="#444"/><text x="4411" y="989">H2</text><rect x="4467" y="980" width="46" height="19" fill="#808080" stroke="#444"/>
<rect x="4388" y="1026" width="46" height="19" fill="#808080" stroke="#444"/><text x="4411" y="1035">H1</text><rect x="4467" y="1026" width="46" height="19" fill="#808080" stroke="#444"/>
<rect x="4775" y="414" width="45" height="19" fill="#808080" stroke="#444"/><text x="4797" y="423">Cz11</text><rect x="4855" y="414" width="45" height="19" fill="#808080" stroke="#444"/><text x="4877" y="423">Bg32</text>
<rect x="4775" y="460" width="45" height="19" fill="#808080" stroke="#444"/><rect x="4855" y="460" width="45" height="19" fill="#808080" stroke="#444"/><text x="4877" y="469">Ag31</text>
</g>
<g>
<use href="#k" x="838" y="1010"/><use href="#k" x="838" y="1093"/><use href="#k" x="1870" y="1010"/><use href="#k" x="1870" y="1093"/>
<use href="#k" x="3289" y="1010"/><use href="#k" x="3289" y="1093"/><use href="#k" x="4450" y="929"/><use href="#k" x="4450" y="1010"/><use href="#k" x="4450" y="1093"/>
<use href="#k" x="4838" y="445"/><use href="#k" x="4967" y="445"/>
</g>
<g class="P" font-size="12">
<rect x="822" y="1034" width="35" height="19"/><text x="839" y="1044" font-size="13">SBET</text>
<rect x="815" y="1114" width="47" height="20"/><text x="838" y="1124">SBRT</text>
<rect x="1853" y="1034" width="35" height="19"/><text x="1870" y="1044" font-size="13">SBET</text>
<rect x="1847" y="1114" width="47" height="20"/><text x="1870" y="1124">SBRT</text>
<rect x="3272" y="1034" width="35" height="19"/><text x="3289" y="1044" font-size="13">SBET</text>
<rect x="3266" y="1114" width="47" height="20"/><text x="3289" y="1124">SBRT</text>
<rect x="4433" y="953" width="35" height="19"/><text x="4450" y="963" font-size="13">SBET</text>
<rect x="4433" y="1034" width="35" height="19"/><text x="4450" y="1044" font-size="13">SBET</text>
<rect x="4427" y="1114" width="47" height="20"/><text x="4450" y="1124">SBRT</text>
<rect x="4821" y="466" width="34" height="19"/><text x="4838" y="476" font-size="13">SBET</text>
<rect x="4945" y="466" width="45" height="19"/><text x="4967" y="476">SBRT</text>
</g>
<g font-size="11">
<rect x="827" y="1060" width="22" height="18" fill="#808080" stroke="#000" stroke-width="2"/><text x="838" y="1069">SB</text>
<rect x="1859" y="1060" width="22" height="18" fill="#808080" stroke="#000" stroke-width="2"/><text x="1870" y="1069">SB</text>
<rect x="3278" y="1060" width="22" height="18" fill="#808080" stroke="#000" stroke-width="2"/><text x="3289" y="1069">SB</text>
<rect x="4439" y="1060" width="22" height="18" fill="#808080" stroke="#000" stroke-width="2"/><text x="4450" y="1069">SB</text>
<rect x="4956" y="411" width="22" height="18" fill="#808080" stroke="#000" stroke-width="2"/><text x="4967" y="420">SB</text>
</g>

<!-- main labels -->
<g class="L">
<rect x="42" y="379" width="46" height="18"/><text x="65" y="388">A</text>
<rect x="169" y="331" width="38" height="18"/><text x="188" y="340">EaT</text>
<rect x="211" y="379" width="24" height="18"/><text x="223" y="388">Ee</text>
<rect x="817" y="380" width="46" height="18"/><text x="840" y="389">Ah11</text>
<rect x="1073" y="380" width="46" height="18"/><text x="1096" y="389">ah11</text>
<rect x="1427" y="332" width="42" height="18"/><text x="1448" y="341">1M</text>
<rect x="300" y="654" width="46" height="18"/><text x="323" y="663">z</text>
<rect x="657" y="710" width="46" height="18"/><text x="680" y="719">n.701</text>
<rect x="816" y="654" width="46" height="18"/><text x="839" y="663">Z</text>
<rect x="1364" y="571" width="50" height="18"/><text x="1389" y="580">V602H</text>
<rect x="1295" y="628" width="48" height="18"/><text x="1319" y="637">n.602</text>
<rect x="1235" y="652" width="50" height="18"/><text x="1260" y="661">V601H</text>
<rect x="1166" y="710" width="48" height="18"/><text x="1190" y="719">n.601</text>
<rect x="1369" y="654" width="42" height="18"/><text x="1390" y="663">62</text>
<rect x="42" y="866" width="46" height="18"/><text x="65" y="875">Ak11</text>
<rect x="169" y="818" width="38" height="18"/><text x="188" y="827">EaT</text>
<rect x="211" y="866" width="24" height="18"/><text x="223" y="875">Ee</text>
<rect x="300" y="818" width="46" height="18"/><text x="323" y="827">y</text>
<rect x="657" y="870" width="46" height="18"/><text x="680" y="879">n.703</text>
<rect x="816" y="816" width="46" height="18"/><text x="839" y="825">Y</text>
<rect x="1107" y="814" width="50" height="18"/><text x="1132" y="823">V603H</text>
<rect x="1037" y="870" width="48" height="18"/><text x="1061" y="879">n.603</text>
<rect x="1170" y="866" width="42" height="18"/><text x="1191" y="875">63</text>
<rect x="1332" y="866" width="46" height="18"/><text x="1355" y="875">V503R</text>
<rect x="1427" y="575" width="42" height="18"/><text x="1448" y="584">60</text>
<rect x="1556" y="656" width="42" height="18"/><text x="1577" y="665">56</text>
<rect x="1497" y="703" width="42" height="18"/><text x="1518" y="712">61</text>
<rect x="1590" y="818" width="46" height="18"/><text x="1613" y="827">V503H</text>
<rect x="1756" y="866" width="42" height="18"/><text x="1777" y="875">55</text>
<rect x="2013" y="818" width="42" height="18"/><text x="2034" y="827">53</text>
<rect x="1954" y="923" width="42" height="18"/><text x="1975" y="932">52</text>
<rect x="1944" y="623" width="42" height="18"/><text x="1965" y="632">59</text>
<rect x="2082" y="355" width="42" height="18"/><text x="2103" y="364">57</text>
<rect x="2147" y="461" width="42" height="18"/><text x="2168" y="470">58</text>
<rect x="2364" y="299" width="46" height="18"/><text x="2387" y="308">R8</text>
<rect x="2235" y="380" width="46" height="18"/><text x="2258" y="389">R6</text>
<rect x="2235" y="461" width="46" height="18"/><text x="2258" y="470">R4</text>
<rect x="2106" y="623" width="46" height="18"/><text x="2129" y="632">R2</text>
<rect x="2106" y="704" width="46" height="18"/><text x="2129" y="713">R1</text>
<rect x="2235" y="866" width="46" height="18"/><text x="2258" y="875">R3</text>
<rect x="2493" y="461" width="46" height="18"/><text x="2516" y="470">S404R</text>
<rect x="2624" y="413" width="42" height="18"/><text x="2645" y="422">S414</text>
<rect x="2624" y="818" width="42" height="18"/><text x="2645" y="827">S413</text>
<rect x="2493" y="866" width="46" height="18"/><text x="2516" y="875">S403R</text>
<rect x="2140" y="895" width="50" height="18"/><text x="2165" y="904">n.415</text>
<rect x="2070" y="951" width="46" height="18"/><text x="2093" y="960">V415R</text>
<rect x="2140" y="976" width="50" height="18"/><text x="2165" y="985">n.407</text>
<rect x="2070" y="1032" width="46" height="18"/><text x="2093" y="1041">V407R</text>
<rect x="2588" y="899" width="42" height="18"/><text x="2609" y="908">36</text>
<rect x="2460" y="980" width="42" height="18"/><text x="2481" y="989">51</text>
<rect x="2641" y="1028" width="42" height="18"/><text x="2662" y="1037">1L</text>
<rect x="2880" y="299" width="46" height="18"/><text x="2903" y="308">U8</text>
<rect x="3008" y="332" width="46" height="18"/><text x="3031" y="341">U6</text>
<rect x="3165" y="355" width="42" height="18"/><text x="3186" y="364">13</text>
<rect x="3008" y="413" width="46" height="18"/><text x="3031" y="422">U4</text>
<rect x="3105" y="461" width="42" height="18"/><text x="3126" y="470">12</text>
<rect x="3303" y="413" width="42" height="18"/><text x="3324" y="422">10</text>
<rect x="3525" y="461" width="46" height="18"/><text x="3548" y="470">V304R</text>
<rect x="3783" y="413" width="46" height="18"/><text x="3806" y="422">V304H</text>
<rect x="3939" y="436" width="42" height="18"/><text x="3960" y="445">5</text>
<rect x="3876" y="380" width="46" height="18"/><text x="3899" y="389">h4</text>
<rect x="3138" y="575" width="46" height="18"/><text x="3161" y="584">U2</text>
<rect x="3621" y="575" width="42" height="18"/><text x="3642" y="584">7</text>
<rect x="3492" y="622" width="42" height="18"/><text x="3513" y="631">9</text>
<rect x="3750" y="622" width="42" height="18"/><text x="3771" y="631">6</text>
<rect x="3912" y="622" width="46" height="18"/><text x="3935" y="631">h2</text>
<rect x="4041" y="622" width="46" height="18"/><text x="4064" y="631">E2</text>
<rect x="4041" y="299" width="46" height="18"/><text x="4064" y="308">E4</text>
<rect x="3008" y="656" width="46" height="18"/><text x="3031" y="665">U1</text>
<rect x="3233" y="656" width="42" height="18"/><text x="3254" y="665">11</text>
<rect x="3912" y="656" width="46" height="18"/><text x="3935" y="665">h1</text>
<rect x="4041" y="656" width="46" height="18"/><text x="4064" y="665">E1</text>
<rect x="3690" y="703" width="42" height="18"/><text x="3711" y="712">8</text>
<rect x="3008" y="818" width="46" height="18"/><text x="3031" y="827">U3</text>
<rect x="4428" y="251" width="46" height="18"/><text x="4451" y="260">H4</text>
<rect x="4428" y="332" width="46" height="18"/><text x="4451" y="341">R41</text>
<rect x="4428" y="494" width="46" height="18"/><text x="4451" y="503">H41</text>
<rect x="4428" y="623" width="46" height="18"/><text x="4451" y="632">H2</text>
<rect x="4428" y="656" width="46" height="18"/><text x="4451" y="665">H1</text>
<rect x="4653" y="251" width="42" height="18"/><text x="4674" y="260">4</text>
<rect x="4524" y="623" width="42" height="18"/><text x="4545" y="632">3</text>
<rect x="4852" y="575" width="42" height="18"/><text x="4873" y="584">2</text>
<rect x="4783" y="704" width="42" height="18"/><text x="4804" y="713">1</text>
<rect x="4815" y="299" width="46" height="18"/><text x="4838" y="308">Cz11</text>
<rect x="4974" y="303" width="46" height="18"/><text x="4997" y="312">n.104</text>
<rect x="5332" y="299" width="46" height="18"/><text x="5355" y="308">cz11</text>
<rect x="4943" y="623" width="46" height="18"/><text x="4966" y="632">Bg32</text>
<rect x="4943" y="656" width="46" height="18"/><text x="4966" y="665">Ag31</text>
<rect x="5102" y="628" width="46" height="18"/><text x="5125" y="637">n.102</text>
<rect x="5102" y="710" width="46" height="18"/><text x="5125" y="719">n.101</text>
<rect x="5459" y="623" width="46" height="18"/><text x="5482" y="632">bg32</text>
<rect x="5459" y="656" width="46" height="18"/><text x="5482" y="665">ag31</text>
<rect x="5442" y="251" width="24" height="18"/><text x="5454" y="260">Ee</text>
<rect x="5470" y="299" width="36" height="18"/><text x="5488" y="308">EaT</text>
<rect x="5591" y="251" width="44" height="18"/><text x="5613" y="260">Zz11</text>
<rect x="4815" y="946" width="46" height="18"/><text x="4838" y="955">zg32</text>
<rect x="4943" y="946" width="46" height="18"/><text x="4966" y="955">Zg32</text>
<rect x="5470" y="946" width="36" height="18"/><text x="5488" y="955">EaT</text>
<rect x="5591" y="946" width="44" height="18"/><text x="5613" y="955">Z</text>
<rect x="4815" y="989" width="46" height="18"/><text x="4838" y="998">yg31</text>
<rect x="4943" y="989" width="46" height="18"/><text x="4966" y="998">Yg31</text>
<rect x="5442" y="989" width="24" height="18"/><text x="5454" y="998">Ee</text>
<rect x="5591" y="989" width="44" height="18"/><text x="5613" y="998">Y</text>
<rect x="5470" y="1027" width="36" height="18"/><text x="5488" y="1036">EaT</text>
</g>
<g class="L G">
<rect x="300" y="332" width="46" height="18"/><text x="323" y="341">V0</text>
<rect x="558" y="332" width="46" height="18"/><text x="581" y="341">S0</text>
<rect x="5202" y="946" width="46" height="18"/><text x="5225" y="955">S0</text>
<rect x="5332" y="946" width="46" height="18"/><text x="5355" y="955">V0</text>
<rect x="5332" y="989" width="46" height="18"/><text x="5355" y="998">V0</text>
<rect x="5202" y="1027" width="46" height="18"/><text x="5225" y="1036">S0</text>
</g>
</svg>
</body></html>
